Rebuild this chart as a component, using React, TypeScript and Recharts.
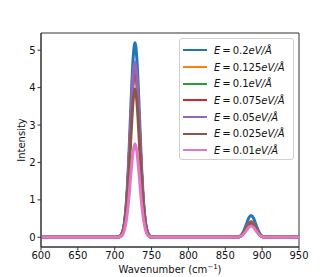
import React from 'react';
import { LineChart, Line, XAxis, YAxis, Legend, ReferenceArea } from 'recharts';

// wavenumber samples (cm^-1)
const wavenumbers = [
  600, 650, 700, 706, 710, 713, 716, 719, 722, 725, 727.5, 730, 733, 736, 739, 742, 745, 749, 760, 800, 850,
  866, 870, 873, 876, 879, 882, 885, 888, 891, 894, 897, 900, 904, 950
];

// intensities, one array per field strength
const e200 = [
  0, 0, 0, 0.02, 0.11, 0.37, 0.99, 2.08, 3.54, 4.78, 5.2, 4.78, 3.54, 2.08, 0.99, 0.37, 0.11, 0.02, 0, 0, 0,
  0.01, 0.03, 0.09, 0.21, 0.37, 0.52, 0.58, 0.52, 0.37, 0.21, 0.09, 0.03, 0.01, 0
];
const e125 = [
  0, 0, 0, 0.01, 0.1, 0.33, 0.88, 1.85, 3.14, 4.25, 4.62, 4.25, 3.14, 1.85, 0.88, 0.33, 0.1, 0.01, 0, 0, 0,
  0, 0.02, 0.07, 0.15, 0.27, 0.37, 0.42, 0.37, 0.27, 0.15, 0.07, 0.02, 0, 0
];
const e100 = [
  0, 0, 0, 0.01, 0.1, 0.33, 0.87, 1.83, 3.11, 4.21, 4.58, 4.21, 3.11, 1.83, 0.87, 0.33, 0.1, 0.01, 0, 0, 0,
  0, 0.02, 0.07, 0.15, 0.26, 0.36, 0.41, 0.36, 0.26, 0.15, 0.07, 0.02, 0, 0
];
const e075 = [
  0, 0, 0, 0.01, 0.1, 0.32, 0.86, 1.82, 3.09, 4.19, 4.55, 4.19, 3.09, 1.82, 0.86, 0.32, 0.1, 0.01, 0, 0, 0,
  0, 0.02, 0.06, 0.14, 0.26, 0.36, 0.4, 0.36, 0.26, 0.14, 0.06, 0.02, 0, 0
];
const e050 = [
  0, 0, 0, 0.01, 0.1, 0.33, 0.89, 1.87, 3.18, 4.31, 4.68, 4.31, 3.18, 1.87, 0.89, 0.33, 0.1, 0.01, 0, 0, 0,
  0, 0.02, 0.06, 0.14, 0.25, 0.35, 0.39, 0.35, 0.25, 0.14, 0.06, 0.02, 0, 0
];
const e025 = [
  0, 0, 0, 0.01, 0.08, 0.28, 0.75, 1.59, 2.7, 3.65, 3.97, 3.65, 2.7, 1.59, 0.75, 0.28, 0.08, 0.01, 0, 0, 0,
  0, 0.02, 0.06, 0.13, 0.24, 0.33, 0.37, 0.33, 0.24, 0.13, 0.06, 0.02, 0, 0
];
const e010 = [
  0, 0, 0, 0.01, 0.05, 0.18, 0.48, 1.0, 1.7, 2.3, 2.5, 2.3, 1.7, 1.0, 0.48, 0.18, 0.05, 0.01, 0, 0, 0,
  0, 0.02, 0.05, 0.11, 0.19, 0.27, 0.3, 0.27, 0.19, 0.11, 0.05, 0.02, 0, 0
];

const fieldLabels = ['0.2', '0.125', '0.1', '0.075', '0.05', '0.025', '0.01'];
const colors = ['#1f77b4', '#ff7f0e', '#2ca02c', '#d62728', '#9467bd', '#8c564b', '#e377c2'];
const seriesValues = [e200, e125, e100, e075, e050, e025, e010];

const xTicks = [600, 650, 700, 750, 800, 850, 900, 950];
const yTicks = [0, 1, 2, 3, 4, 5];

const data = wavenumbers.map((w, i) => {
  const row: Record<string, number> = { w };
  seriesValues.forEach((vals, k) => {
    row['s' + k] = vals[i];
  });
  return row;
});

const font = '"DejaVu Sans", sans-serif';
const tickStyle = { fill: '#111', fontSize: 10, fontFamily: font };

function LegendBox() {
  return (
    <div
      style={{
        width: 115,
        height: 122,
        boxSizing: 'border-box',
        border: '1px solid #d0d0d0',
        borderRadius: 3,
        background: 'rgba(255,255,255,0.85)',
        padding: '3px 0 0 3px',
        fontFamily: font,
        fontSize: 10,
        color: '#111'
      }}
    >
      {fieldLabels.map((lab, i) => (
        <div key={lab} style={{ height: 16.7, display: 'flex', alignItems: 'center' }}>
          <span style={{ display: 'inline-block', width: 24, height: 2, background: colors[i], marginRight: 7 }} />
          <span style={{ whiteSpace: 'nowrap' }}>
            <i>E</i>&thinsp;=&thinsp;{lab}<i>eV/Å</i>
          </span>
        </div>
      ))}
    </div>
  );
}

export default function App() {
  return (
    <div style={{ position: 'absolute', left: 0, top: 0, background: '#fff' }}>
      <LineChart width={332} height={277} data={data} margin={{ top: 33, right: 33, left: 0, bottom: 0 }}>
        <XAxis
          dataKey="w"
          type="number"
          domain={[600, 950]}
          ticks={xTicks}
          allowDataOverflow
          height={30}
          tickSize={3.5}
          tickMargin={1}
          stroke="#333"
          tick={tickStyle}
          label={{
            content: () => (
              <text x={170} y={273} textAnchor="middle" fill="#111" fontSize={10} fontFamily={font}>
                Wavenumber (cm
                <tspan dy={-4} fontSize={7}>
                  −1
                </tspan>
                <tspan dy={4}>)</tspan>
              </text>
            )
          }}
        />
        <YAxis
          type="number"
          domain={[-0.26, 5.46]}
          ticks={yTicks}
          allowDataOverflow
          width={41}
          tickSize={3.5}
          tickMargin={2}
          stroke="#333"
          tick={tickStyle}
          label={{
            content: () => (
              <text
                x={21}
                y={140}
                transform="rotate(-90 21 140)"
                textAnchor="middle"
                dominantBaseline="central"
                fill="#111"
                fontSize={10}
                fontFamily={font}
              >
                Intensity
              </text>
            )
          }}
        />
        <ReferenceArea x1={600} x2={950} y1={-0.26} y2={5.46} fill="none" stroke="#333" strokeWidth={1} />
        {seriesValues.map((_, k) => (
          <Line
            key={k}
            type="monotone"
            dataKey={'s' + k}
            stroke={colors[k]}
            strokeWidth={3}
            dot={false}
            isAnimationActive={false}
          />
        ))}
        <Legend
          layout="vertical"
          align="center"
          verticalAlign="middle"
          content={() => <LegendBox />}
          wrapperStyle={{ left: 179, top: 38, width: 115 }}
        />
      </LineChart>
    </div>
  );
}
